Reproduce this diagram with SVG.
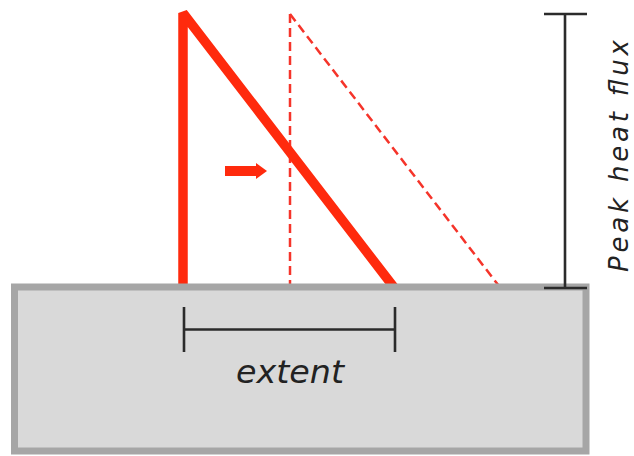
<svg xmlns="http://www.w3.org/2000/svg" width="634" height="456" viewBox="0 0 634 456">
<style>
.red{stroke:#ff2a0d;fill:none}
.thick{stroke-width:9.5;stroke-linejoin:miter;stroke-miterlimit:2}
.dash{stroke-width:2.5;stroke-dasharray:9 5;stroke:#f5342a}
.dim{stroke:#2b2b2b;stroke-width:2.6;fill:none}
.lbl{font-family:"DejaVu Sans",sans-serif;font-style:italic;fill:#222}
</style>
<rect width="634" height="456" fill="#fff"/>
<g id="profiles">
<polyline class="red dash" points="290,14 290,290"/>
<polyline class="red dash" points="290,14 502,290"/>
<polyline class="red thick" points="183,290 183,13 396,290"/>
<polygon id="arrow" points="225,166 256,166 256,163 267,171 256,179 256,176 225,176" fill="#ff2a0d"/>
</g>
<g id="surface">
<rect x="14.5" y="287" width="571.5" height="164" fill="#d9d9d9" stroke="#a6a6a6" stroke-width="7"/>
</g>
<g id="extent">
<path class="dim" d="M184,307V352M395,307V352M184,329.5H395"/>
<text class="lbl" x="290" y="383" font-size="32" text-anchor="middle" textLength="108" lengthAdjust="spacingAndGlyphs">extent</text>
</g>
<g id="peak">
<path class="dim" d="M544,14H587M544,288H587M565,14V288"/>
<text class="lbl" transform="translate(628,156) rotate(-90)" x="0" y="0" font-size="26" text-anchor="middle" textLength="232" lengthAdjust="spacing">Peak heat flux</text>
</g>
</svg>
